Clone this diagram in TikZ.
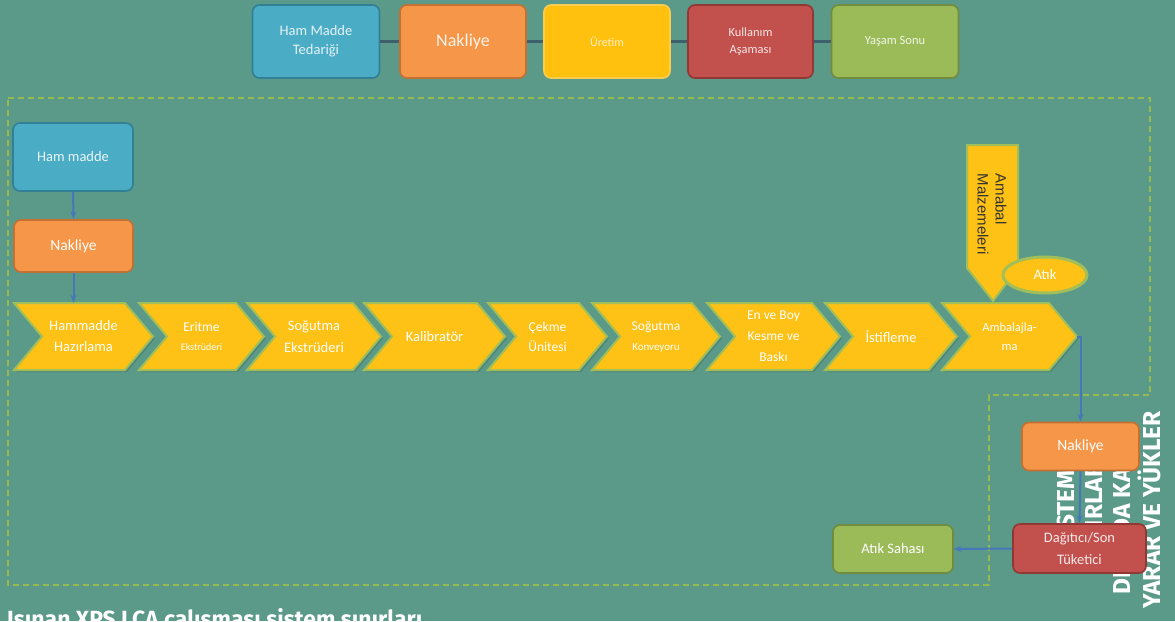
\documentclass[tikz,border=0pt]{standalone}
\usepackage{fontspec}
\setmainfont{Carlito}
\newfontfamily\headfont{Fira Sans}
\newfontfamily\arialfont{Liberation Sans}
\usetikzlibrary{shapes.geometric,shadows,arrows.meta}

\definecolor{bg}{RGB}{91,153,137}
\definecolor{cblue}{RGB}{75,172,198}
\definecolor{cbluedark}{RGB}{49,128,150}
\definecolor{corange}{RGB}{245,150,72}
\definecolor{corangedark}{RGB}{196,112,50}
\definecolor{cyellow}{RGB}{255,193,14}
\definecolor{cyellowline}{RGB}{250,205,80}
\definecolor{cred}{RGB}{194,80,77}
\definecolor{creddark}{RGB}{145,55,52}
\definecolor{cgreen}{RGB}{155,187,89}
\definecolor{cgreendark}{RGB}{112,140,60}
\definecolor{chevfill}{RGB}{254,193,22}
\definecolor{chevline}{RGB}{160,190,90}
\definecolor{arrowblue}{RGB}{70,120,185}
\definecolor{dashgreen}{RGB}{150,185,80}
\definecolor{topconn}{RGB}{62,96,108}

\tikzset{
  box/.style={rounded corners=7pt, line width=1.6pt, align=center, inner sep=1pt, text=white},
  bluebox/.style={box, fill=cblue, draw=cbluedark},
  orangebox/.style={box, fill=corange, draw=corangedark},
  yellowbox/.style={box, fill=cyellow, draw=cyellowline},
  redbox/.style={box, fill=cred, draw=creddark},
  greenbox/.style={box, fill=cgreen, draw=cgreendark},
  chevtext/.style={align=center, text=white, inner sep=0pt, minimum height=67pt},
  chevpath/.style={fill=chevfill, draw=chevline, line width=2pt, line join=miter},
  flow/.style={draw=arrowblue, line width=2pt, -{Stealth[length=8pt,width=6pt]}},
  topline/.style={draw=topconn, line width=3pt},
  boundary/.style={draw=dashgreen, line width=1.3pt, dash pattern=on 6pt off 4pt},
}

\newcommand\chevshape[5]{%
  \fill[black, opacity=0.12] (#2+2,305) -- (#3-26,305) -- (#3+2,338.5) -- (#3-26,372) -- (#2+2,372) -- (#2+30,338.5) -- cycle;
  \path[chevpath] (#2,303) -- (#3-28,303) -- (#3,336.5) -- (#3-28,370) -- (#2,370) -- (#2+28,336.5) -- cycle;
  \node[chevtext, minimum width={(#3-#2)*1pt}, font=#5] (#1) at ({(#2+#3)/2},336.5) {#4};
}

\begin{document}
\begin{tikzpicture}[x=1pt,y=-1pt]
\useasboundingbox (0,0) rectangle (1175,621);
\clip (0,0) rectangle (1175,621);
\fill[bg] (0,0) rectangle (1175,621);

% system boundary
\path[boundary] (8,98) -- (1150,98) -- (1150,395) -- (989,395) -- (989,585) -- (8,585) -- cycle;

% top row
\node[bluebox, minimum width=127pt, minimum height=73pt, text=white!85!cblue, font=\fontsize{14.5}{19}\selectfont] (t1) at (316,41.5) {Ham Madde\\Tedariği};
\node[orangebox, minimum width=126pt, minimum height=73pt, text=white!88!corange, font=\fontsize{18}{20}\selectfont] (t2) at (463,41.5) {Nakliye};
\node[yellowbox, minimum width=126pt, minimum height=73pt, text=white!75!cyellow, font=\fontsize{12}{14}\selectfont] (t3) at (607,41.5) {Üretim};
\node[redbox, minimum width=125pt, minimum height=73pt, text=white!85!cred, font=\fontsize{12.5}{17}\selectfont] (t4) at (750.5,41.5) {Kullanım\\Aşaması};
\node[greenbox, minimum width=127pt, minimum height=73pt, text=white!85!cgreen, font=\fontsize{12.5}{15}\selectfont] (t5) at (895,41.5) {Yaşam Sonu};
\draw[topline] (t1) -- (t2);
\draw[topline] (t2) -- (t3);
\draw[topline] (t3) -- (t4);
\draw[topline] (t4) -- (t5);

% left column
\node[bluebox, minimum width=120pt, minimum height=68pt, text=white!88!cblue, font=\fontsize{14.5}{17}\selectfont] (ham) at (73,157) {Ham madde};
\node[orangebox, minimum width=119pt, minimum height=52pt, font=\fontsize{15.5}{18}\selectfont] (nak1) at (73.5,246) {Nakliye};

% chevrons
\chevshape{c1}{14}{153}{Hammadde\\Hazırlama}{\fontsize{14.5}{21}\selectfont}
\chevshape{c2}{139}{264}{Eritme\\{\fontsize{10}{14}\selectfont Ekstrüderi}}{\fontsize{13.5}{19}\selectfont}
\chevshape{c3}{247}{381}{Soğutma\\Ekstrüderi}{\fontsize{14.5}{22}\selectfont}
\chevshape{c4}{364}{505}{Kalibratör}{\fontsize{14.5}{17}\selectfont}
\chevshape{c5}{488}{607}{Çekme\\Ünitesi}{\fontsize{13.5}{20}\selectfont}
\chevshape{c6}{592}{720}{Soğutma\\{\fontsize{11}{14}\selectfont Konveyoru}}{\fontsize{13.5}{20}\selectfont}
\chevshape{c7}{707}{840}{En ve Boy\\Kesme ve\\Baskı}{\fontsize{13.5}{21}\selectfont}
\chevshape{c8}{825}{957}{İstifleme}{\fontsize{14.5}{17}\selectfont}
\chevshape{c9}{942}{1077}{Ambalajla-\\ma}{\fontsize{12.5}{19}\selectfont}

\draw[flow] (ham.south) -- (nak1.north);
\draw[flow] (nak1.south) -- (nak1.south |- c1.north);

% packaging materials input
\path[chevpath] (967,145) -- (1018,145) -- (1018,268) -- (993,301) -- (967,268) -- cycle;
\node[rotate=-90, align=left, inner sep=0pt, text=black!80, font=\arialfont\fontsize{15}{18}\selectfont] (amb) at (992,214) {Amabal\\Malzemeleri};
\node[ellipse, fill=chevfill, draw=chevline, line width=3pt, minimum width=84pt, minimum height=36pt, inner sep=0pt, text=white, font=\fontsize{14.5}{17}\selectfont] (atik) at (1045,275) {Atık};

% outside boundary text (behind the boxes)
\node[rotate=90, align=center, inner sep=0pt, text=white, font=\headfont\bfseries\fontsize{24.5}{28}\selectfont] (side) at (1106,510) {SİSTEM\\SINIRLARI\\DIŞINDA KALAN\\YARAR VE YÜKLER};

% right column
\node[orangebox, minimum width=117pt, minimum height=48pt, font=\fontsize{15.5}{18}\selectfont] (nak2) at (1080.5,446.5) {Nakliye};
\node[redbox, minimum width=133pt, minimum height=49pt, text=white!88!cred, font=\fontsize{14.5}{22}\selectfont] (dag) at (1079.5,548.5) {Dağıtıcı/Son\\Tüketici};
\node[greenbox, minimum width=120pt, minimum height=48pt, font=\fontsize{14.5}{17}\selectfont] (sahasi) at (893,549) {Atık Sahası};

\draw[flow] (c9.east) -| (nak2.north);
\draw[flow] (nak2.south) -- (dag.north);
\draw[flow] (dag.west) -- (sahasi.east);

% caption (cut by the lower edge, as in the original)
\node[anchor=base west, inner sep=0pt, text=white] (title) at (7,627) {\resizebox{415pt}{19pt}{\headfont\bfseries Isınan XPS LCA çalışması sistem sınırları}};
\end{tikzpicture}
\end{document}
